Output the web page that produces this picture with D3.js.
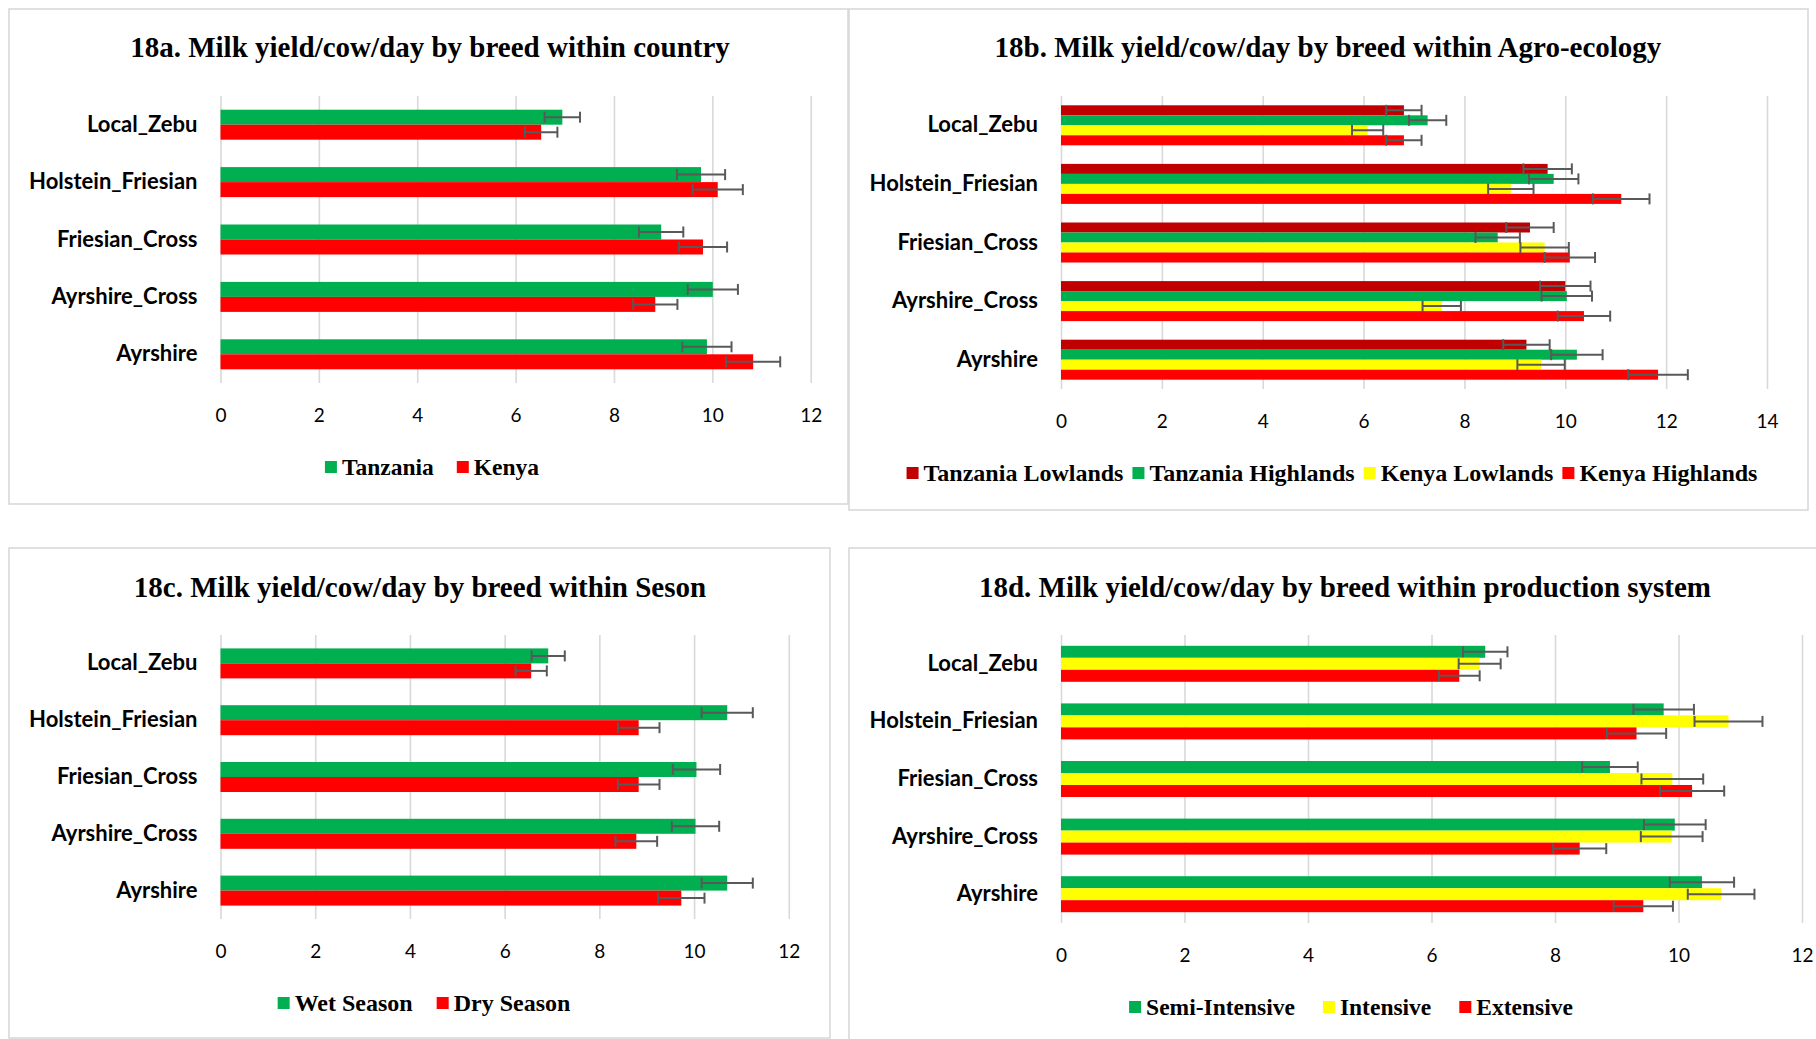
<!DOCTYPE html>
<html>
<head>
<meta charset="utf-8">
<script src="https://cdn.jsdelivr.net/npm/d3@7"></script>
<style>
  html, body { margin: 0; padding: 0; background: #ffffff; }
  svg { display: block; }
</style>
</head>
<body>
<svg id="chart" width="1816" height="1039"></svg>
<script>
// ---------- DATA ----------
const categories = ["Local_Zebu", "Holstein_Friesian", "Friesian_Cross", "Ayrshire_Cross", "Ayrshire"];

// 18a – country
const countrySeries = ["Tanzania", "Kenya"];
const countryTanzania    = [6.95, 9.77, 8.96, 10.01, 9.89];
const countryTanzaniaErr = [0.36, 0.49, 0.45, 0.51, 0.50];
const countryKenya       = [6.52, 10.11, 9.81, 8.84, 10.83];
const countryKenyaErr    = [0.33, 0.51, 0.49, 0.45, 0.55];

// 18b – agro-ecology
const agroSeries = ["Tanzania Lowlands", "Tanzania Highlands", "Kenya Lowlands", "Kenya Highlands"];
const agroTzLow     = [6.80, 9.65, 9.30, 10.00, 9.23];
const agroTzLowErr  = [0.35, 0.48, 0.47, 0.50, 0.46];
const agroTzHigh    = [7.27, 9.77, 8.66, 10.03, 10.23];
const agroTzHighErr = [0.37, 0.49, 0.44, 0.50, 0.51];
const agroKeLow     = [6.08, 8.92, 9.59, 7.55, 9.52];
const agroKeLowErr  = [0.31, 0.45, 0.48, 0.38, 0.47];
const agroKeHigh    = [6.80, 11.11, 10.09, 10.37, 11.84];
const agroKeHighErr = [0.35, 0.56, 0.50, 0.52, 0.59];

// 18c – season
const seasonSeries = ["Wet Season", "Dry Season"];
const seasonWet    = [6.92, 10.70, 10.05, 10.03, 10.70];
const seasonWetErr = [0.35, 0.54, 0.50, 0.50, 0.54];
const seasonDry    = [6.56, 8.83, 8.83, 8.78, 9.73];
const seasonDryErr = [0.33, 0.44, 0.44, 0.44, 0.49];

// 18d – production system
const systemSeries = ["Semi-Intensive", "Intensive", "Extensive"];
const systemSemi     = [6.87, 9.76, 8.89, 9.94, 10.38];
const systemSemiErr  = [0.36, 0.49, 0.45, 0.50, 0.52];
const systemInt      = [6.78, 10.81, 9.90, 9.89, 10.69];
const systemIntErr   = [0.34, 0.55, 0.50, 0.50, 0.54];
const systemExt      = [6.45, 9.32, 10.22, 8.40, 9.43];
const systemExtErr   = [0.33, 0.48, 0.52, 0.43, 0.48];

const ticks12 = [0, 2, 4, 6, 8, 10, 12];
const ticks14 = [0, 2, 4, 6, 8, 10, 12, 14];

const titles = [
  "18a. Milk yield/cow/day by breed within country",
  "18b. Milk yield/cow/day by breed within Agro-ecology",
  "18c. Milk yield/cow/day by breed within Seson",
  "18d. Milk yield/cow/day by breed within production system"
];

// ---------- COLOURS ----------
const GREEN = "#00B050", RED = "#FF0000", YELLOW = "#FFFF00", DARKRED = "#C00000";

// ---------- PANELS (layout + references to data) ----------
const panels = [
  { title: titles[0], box: [9, 9, 848, 504], x0: 220.5, x1: 810.7, xMax: 12, ticks: ticks12,
    gy: [96, 383], group: 30, titleX: 430, titleY: 47, legendY: 467, legendCX: 432, legendGap: 23, legendFont: 23.5,
    series: countrySeries, colors: [GREEN, RED],
    values: [countryTanzania, countryKenya], errors: [countryTanzaniaErr, countryKenyaErr] },
  { title: titles[1], box: [849, 9, 1808, 510], x0: 1061, x1: 1767, xMax: 14, ticks: ticks14,
    gy: [96, 389], group: 40, titleX: 1328, titleY: 47, legendY: 473, legendCX: 1332, legendGap: 9, legendFont: 24,
    series: agroSeries, colors: [DARKRED, GREEN, YELLOW, RED],
    values: [agroTzLow, agroTzHigh, agroKeLow, agroKeHigh],
    errors: [agroTzLowErr, agroTzHighErr, agroKeLowErr, agroKeHighErr] },
  { title: titles[2], box: [9, 548, 830, 1038], x0: 220.5, x1: 788.8, xMax: 12, ticks: ticks12,
    gy: [635, 919], group: 30, titleX: 420, titleY: 587, legendY: 1003, legendCX: 424, legendGap: 24, legendFont: 24,
    series: seasonSeries, colors: [GREEN, RED],
    values: [seasonWet, seasonDry], errors: [seasonWetErr, seasonDryErr] },
  { title: titles[3], box: [849, 548, 1830, 1050], x0: 1061, x1: 1802, xMax: 12, ticks: ticks12,
    gy: [635, 923], group: 36, titleX: 1345, titleY: 587, legendY: 1007, legendCX: 1351, legendGap: 28, legendFont: 23.5,
    series: systemSeries, colors: [GREEN, YELLOW, RED],
    values: [systemSemi, systemInt, systemExt],
    errors: [systemSemiErr, systemIntErr, systemExtErr] }
];

const svg = d3.select("#chart");

panels.forEach(p => {
  const g = svg.append("g");

  // panel border
  g.append("rect")
    .attr("x", p.box[0]).attr("y", p.box[1])
    .attr("width", p.box[2] - p.box[0]).attr("height", p.box[3] - p.box[1])
    .attr("fill", "#fff").attr("stroke", "#d9d9d9").attr("stroke-width", 1.6);

  // title
  g.append("text")
    .attr("x", p.titleX).attr("y", p.titleY).attr("dy", "0.34em")
    .attr("text-anchor", "middle")
    .style("font-family", "'Liberation Serif', 'Times New Roman', serif")
    .style("font-weight", "bold").style("font-size", "29px").attr("fill", "#000")
    .text(p.title);

  const x = d3.scaleLinear().domain([0, p.xMax]).range([p.x0, p.x1]);
  const y = d3.scaleBand().domain(categories).range(p.gy).paddingInner(0).paddingOuter(0);
  const inner = d3.scaleBand().domain(p.series).range([0, p.group]);

  // grid + tick labels
  const xAxis = d3.axisBottom(x).tickValues(p.ticks).tickFormat(d3.format("d"))
    .tickSize(-(p.gy[1] - p.gy[0])).tickPadding(26);
  const ax = g.append("g").attr("transform", `translate(0,${p.gy[1]})`).call(xAxis);
  ax.select(".domain").remove();
  ax.selectAll(".tick line").attr("stroke", "#d9d9d9").attr("stroke-width", 1.6);
  ax.selectAll(".tick text").attr("fill", "#000")
    .style("font-family", "Lato, 'Open Sans', sans-serif").style("font-size", "19px");

  // category labels
  const yAxis = d3.axisLeft(y).tickSize(0).tickPadding(23);
  const ay = g.append("g").attr("transform", `translate(${p.x0},0)`).call(yAxis);
  ay.select(".domain").remove();
  ay.selectAll(".tick text").attr("fill", "#000")
    .style("font-family", "Lato, 'Open Sans', sans-serif").style("font-weight", "bold").style("font-size", "22px");

  // bars
  const rows = [];
  p.series.forEach((s, si) => {
    categories.forEach((c, ci) => {
      rows.push({ s, si, c, v: p.values[si][ci], e: p.errors[si][ci] });
    });
  });
  const groupOffset = (y.bandwidth() - p.group) / 2;
  const barY = d => y(d.c) + groupOffset + inner(d.s);
  const bh = inner.bandwidth();

  g.append("g").selectAll("rect").data(rows).join("rect")
    .attr("x", x(0)).attr("y", barY)
    .attr("width", d => x(d.v) - x(0)).attr("height", bh)
    .attr("fill", d => p.colors[d.si]);

  // error bars
  const cap = 11;
  const eg = g.append("g").attr("stroke", "#595959").attr("stroke-width", 2).attr("fill", "none");
  rows.forEach(d => {
    const cy = barY(d) + bh / 2;
    eg.append("line").attr("x1", x(d.v - d.e)).attr("x2", x(d.v + d.e)).attr("y1", cy).attr("y2", cy);
    eg.append("line").attr("x1", x(d.v - d.e)).attr("x2", x(d.v - d.e)).attr("y1", cy - cap / 2).attr("y2", cy + cap / 2);
    eg.append("line").attr("x1", x(d.v + d.e)).attr("x2", x(d.v + d.e)).attr("y1", cy - cap / 2).attr("y2", cy + cap / 2);
  });

  // legend
  const lg = g.append("g");
  const items = p.series.map((s, i) => {
    const it = lg.append("g");
    it.append("rect").attr("x", 0).attr("y", -6).attr("width", 12).attr("height", 12).attr("fill", p.colors[i]);
    const t = it.append("text").attr("x", 17).attr("y", 0).attr("dy", "0.34em")
      .style("font-family", "'Liberation Serif', 'Times New Roman', serif")
      .style("font-weight", "bold").style("font-size", p.legendFont + "px").attr("fill", "#000").text(s);
    const w = 17 + t.node().getComputedTextLength();
    return { it, w };
  });
  const total = d3.sum(items, d => d.w) + p.legendGap * (items.length - 1);
  let cx = p.legendCX - total / 2;
  items.forEach(d => {
    d.it.attr("transform", `translate(${cx},${p.legendY})`);
    cx += d.w + p.legendGap;
  });
});
</script>
</body>
</html>
